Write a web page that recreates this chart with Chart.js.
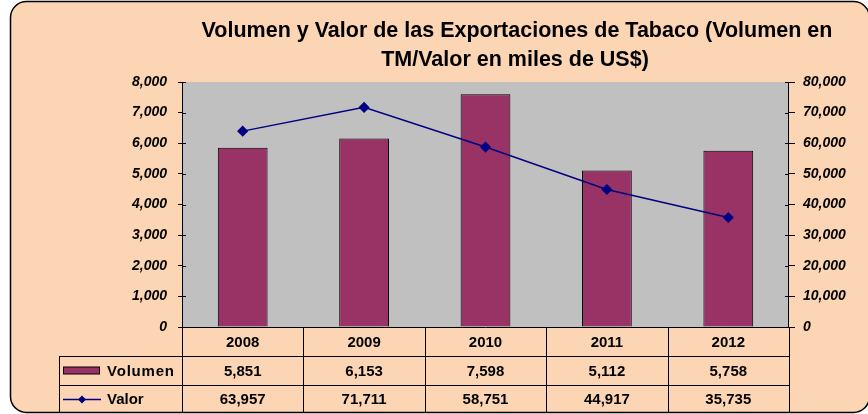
<!DOCTYPE html>
<html>
<head>
<meta charset="utf-8">
<script src="https://cdn.jsdelivr.net/npm/chart.js@4/dist/chart.umd.min.js"></script>
<style>
  html, body { margin: 0; padding: 0; background: #ffffff; }
  #wrap { position: relative; width: 868px; height: 414px; }
</style>
</head>
<body>
<div id="wrap"><canvas id="c" width="868" height="414"></canvas></div>
<script>
const categories = ['2008', '2009', '2010', '2011', '2012'];
const volumen = [5851, 6153, 7598, 5112, 5758];
const valor = [63957, 71711, 58751, 44917, 35735];
const titleLines = ['Volumen y Valor de las Exportaciones de Tabaco (Volumen en', 'TM/Valor en miles de US$)'];
const seriesNames = ['Volumen', 'Valor'];

const PEACH = '#FCD5B5';
const BAR = '#993366';
const LINE = '#000080';
const FONT = '"Liberation Sans", Arial, sans-serif';
const fmt = v => Number(v).toLocaleString('en-US');

const framePlugin = {
  id: 'frame',
  beforeDraw(chart) {
    const ctx = chart.ctx;
    ctx.save();
    ctx.fillStyle = '#ffffff';
    ctx.fillRect(0, 0, chart.width, chart.height);
    const x = 10.5, y = 1.5, w = 859, h = 411, r = 16;
    ctx.beginPath();
    ctx.moveTo(x + r, y);
    ctx.lineTo(x + w - r, y);
    ctx.arcTo(x + w, y, x + w, y + r, r);
    ctx.lineTo(x + w, y + h - r);
    ctx.arcTo(x + w, y + h, x + w - r, y + h, r);
    ctx.lineTo(x + r, y + h);
    ctx.arcTo(x, y + h, x, y + h - r, r);
    ctx.lineTo(x, y + r);
    ctx.arcTo(x, y, x + r, y, r);
    ctx.closePath();
    ctx.fillStyle = PEACH;
    ctx.fill();
    ctx.lineWidth = 1.5;
    ctx.strokeStyle = '#000000';
    ctx.stroke();

    // title
    ctx.fillStyle = '#000000';
    ctx.font = 'bold 21.5px ' + FONT;
    ctx.textAlign = 'center';
    ctx.textBaseline = 'middle';
    ctx.fillText(titleLines[0], 517, 31);
    ctx.fillText(titleLines[1], 515, 60);
    ctx.restore();
  },
  afterDraw(chart) {
    const ctx = chart.ctx;
    const area = chart.chartArea;
    const xs = chart.scales.x;
    const yl = chart.scales.y;
    const yr = chart.scales.y1;
    ctx.save();
    // inner halves of crossing tick marks
    ctx.strokeStyle = '#000000';
    ctx.lineWidth = 1;
    yl.ticks.forEach((t, i) => {
      const py = Math.round(yl.getPixelForTick(i)) + 0.5;
      ctx.beginPath(); ctx.moveTo(area.left, py); ctx.lineTo(area.left + 4, py); ctx.stroke();
    });
    yr.ticks.forEach((t, i) => {
      const py = Math.round(yr.getPixelForTick(i)) + 0.5;
      ctx.beginPath(); ctx.moveTo(area.right - 4, py); ctx.lineTo(area.right, py); ctx.stroke();
    });

    // data table
    const n = categories.length;
    const step = (area.right - area.left) / n;
    const top = area.bottom;
    const r1 = top + 29, r2 = top + 58, r3 = top + 85;
    const legendLeft = 59;
    ctx.strokeStyle = '#000000';
    ctx.lineWidth = 1;
    const hline = (x1, x2, y) => { ctx.beginPath(); ctx.moveTo(x1, Math.round(y) + 0.5); ctx.lineTo(x2, Math.round(y) + 0.5); ctx.stroke(); };
    const vline = (x, y1, y2) => { ctx.beginPath(); ctx.moveTo(Math.round(x) + 0.5, y1); ctx.lineTo(Math.round(x) + 0.5, y2); ctx.stroke(); };
    hline(legendLeft, area.right, r1);
    hline(legendLeft, area.right, r2);
    hline(legendLeft, area.right, r3);
    for (let i = 0; i <= n; i++) {
      vline(area.left + i * step, top, r3);
    }
    vline(legendLeft, r1, r3);

    ctx.fillStyle = '#000000';
    ctx.font = 'bold 15px ' + FONT;
    ctx.textAlign = 'center';
    ctx.textBaseline = 'middle';
    for (let i = 0; i < n; i++) {
      const cx = xs.getPixelForValue(i);
      ctx.fillText(categories[i], cx, (top + r1) / 2 + 1);
      ctx.fillText(fmt(volumen[i]), cx, (r1 + r2) / 2 + 1);
      ctx.fillText(fmt(valor[i]), cx, (r2 + r3) / 2 + 1);
    }
    // legend keys
    const y1c = (r1 + r2) / 2, y2c = (r2 + r3) / 2;
    ctx.fillStyle = BAR;
    ctx.fillRect(63.5, y1c - 3.5, 36, 7);
    ctx.strokeStyle = '#000000';
    ctx.strokeRect(63.5, y1c - 3.5, 36, 7);
    ctx.strokeStyle = LINE;
    ctx.lineWidth = 1.5;
    ctx.beginPath(); ctx.moveTo(63, y2c + 1); ctx.lineTo(101, y2c + 1); ctx.stroke();
    ctx.fillStyle = LINE;
    ctx.beginPath();
    ctx.moveTo(82, y2c - 3); ctx.lineTo(86, y2c + 1); ctx.lineTo(82, y2c + 5); ctx.lineTo(78, y2c + 1); ctx.closePath(); ctx.fill();
    ctx.fillStyle = '#000000';
    ctx.textAlign = 'left';
    ctx.letterSpacing = '0.8px';
    ctx.fillText(seriesNames[0], 107, y1c + 1);
    ctx.letterSpacing = '0px';
    ctx.fillText(seriesNames[1], 107, y2c + 1);
    ctx.restore();
  }
};

const plotBg = {
  id: 'plotBg',
  beforeDatasetsDraw(chart) {
    const a = chart.chartArea;
    const ctx = chart.ctx;
    ctx.save();
    ctx.fillStyle = '#C0C0C0';
    ctx.fillRect(a.left, a.top, a.right - a.left, a.bottom - a.top);
    ctx.strokeStyle = '#000000';
    ctx.lineWidth = 1;
    ctx.beginPath(); ctx.moveTo(a.left + 0.5, a.top); ctx.lineTo(a.left + 0.5, a.bottom); ctx.stroke();
    ctx.beginPath(); ctx.moveTo(a.right - 0.5, a.top); ctx.lineTo(a.right - 0.5, a.bottom); ctx.stroke();
    ctx.beginPath(); ctx.moveTo(a.left, a.bottom + 0.5); ctx.lineTo(a.right, a.bottom + 0.5); ctx.stroke();
    ctx.restore();
  }
};

const tickFont = { family: FONT, size: 14, weight: 'bold', style: 'italic' };

new Chart(document.getElementById('c'), {
  data: {
    labels: categories,
    datasets: [
      {
        type: 'line',
        label: seriesNames[1],
        data: valor,
        yAxisID: 'y1',
        borderColor: LINE,
        backgroundColor: LINE,
        borderWidth: 1.5,
        pointStyle: 'rectRot',
        pointRadius: 4.5,
        pointHoverRadius: 4.5,
        tension: 0,
        order: 0
      },
      {
        type: 'bar',
        label: seriesNames[0],
        data: volumen,
        yAxisID: 'y',
        backgroundColor: BAR,
        borderColor: '#000000',
        borderWidth: 1,
        barPercentage: 0.41,
        categoryPercentage: 1,
        order: 1
      }
    ]
  },
  options: {
    responsive: false,
    animation: false,
    events: [],
    layout: { padding: { top: 82, bottom: 87, left: 0, right: 0 } },
    plugins: { legend: { display: false }, title: { display: false }, tooltip: { enabled: false } },
    scales: {
      x: { display: false, offset: true, grid: { display: false } },
      y: {
        position: 'left',
        min: 0, max: 8000,
        ticks: { stepSize: 1000, color: '#000000', font: tickFont, padding: 11, callback: v => fmt(v) },
        grid: { drawOnChartArea: false, drawTicks: true, tickLength: 4, color: '#000000' },
        border: { display: false },
        afterFit: s => { s.width = 182; }
      },
      y1: {
        position: 'right',
        min: 0, max: 80000,
        ticks: { stepSize: 10000, color: '#000000', font: tickFont, padding: 8, callback: v => fmt(v) },
        grid: { drawOnChartArea: false, drawTicks: true, tickLength: 6, color: '#000000' },
        border: { display: false },
        afterFit: s => { s.width = 79; }
      }
    }
  },
  plugins: [framePlugin, plotBg]
});
</script>
</body>
</html>
